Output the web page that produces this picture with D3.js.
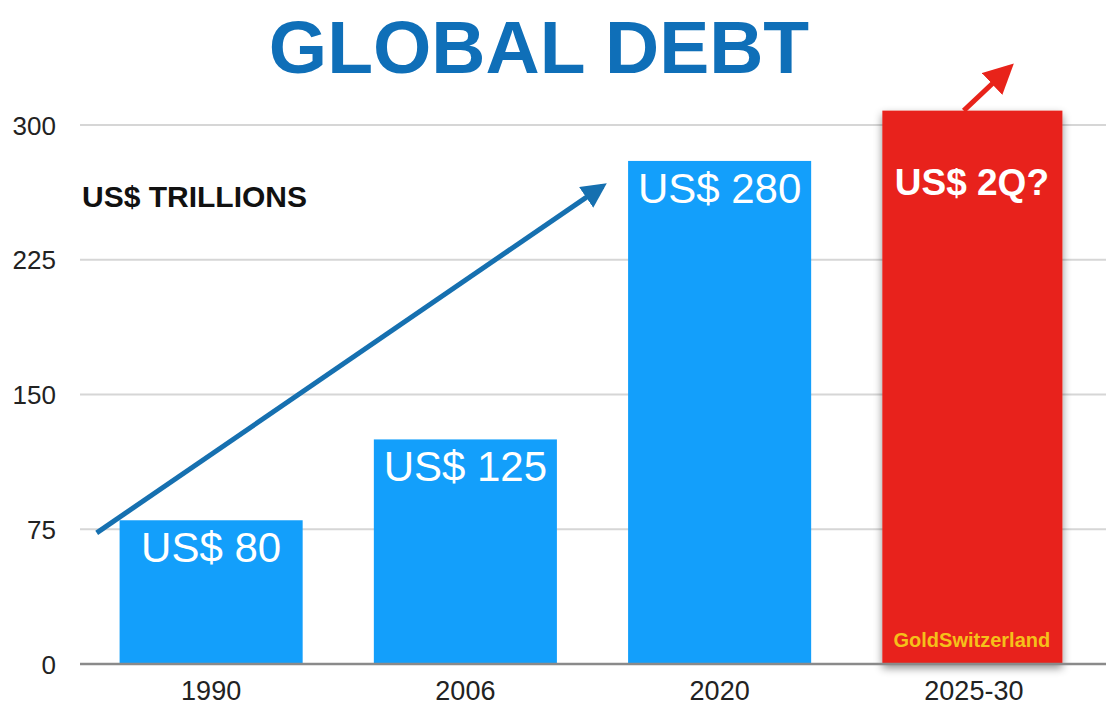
<!DOCTYPE html>
<html><head><meta charset="utf-8">
<script src="https://cdn.jsdelivr.net/npm/d3@7"></script>
<style>
html,body{margin:0;padding:0;background:#fff;}
svg{display:block;font-family:"Liberation Sans",Arial,Helvetica,sans-serif;}
</style></head>
<body><svg id="c" width="1106" height="708"></svg>
<script>
const categories = ["1990","2006","2020","2025-30"];
const values = [80,125,280,308];
const barLabels = ["US$ 80","US$ 125","US$ 280","US$ 2Q?"];
const yTicks = [0,75,150,225,300];
// arrows in data space: [category index offset, value]
const trendArrow = [[-0.45,73],[1.54,266]];
const projArrow = [[2.96,308],[3.14,332]];

const svg = d3.select("#c");
const W=1106,H=708;
const x = d3.scaleBand().domain(categories).range([84,1101]).paddingInner(0.28).paddingOuter(0.14);
const y = d3.scaleLinear().domain([0,300]).range([664,125]);
const xi = i => x(categories[0]) + x.bandwidth()/2 + i*x.step();

const defs = svg.append("defs");
const f = defs.append("filter").attr("id","sh").attr("x","-10%").attr("y","-10%").attr("width","120%").attr("height","125%");
f.append("feDropShadow").attr("dx",0).attr("dy",4).attr("stdDeviation",4).attr("flood-color","#000").attr("flood-opacity",0.45);
defs.append("marker").attr("id","ab").attr("viewBox","0 0 10 10").attr("refX",8).attr("refY",5)
  .attr("markerWidth",5).attr("markerHeight",5).attr("orient","auto").attr("markerUnits","strokeWidth")
  .append("path").attr("d","M0,0 L10,5 L0,10 z").attr("fill","#1670b0");
defs.append("marker").attr("id","ar").attr("viewBox","0 0 10 10").attr("refX",8).attr("refY",5)
  .attr("markerWidth",6).attr("markerHeight",6).attr("orient","auto").attr("markerUnits","strokeWidth")
  .append("path").attr("d","M0,0 L10,5 L0,10 z").attr("fill","#e8231a");

// title
svg.append("text").attr("x",539).attr("y",73).attr("text-anchor","middle")
  .attr("font-size",75).attr("font-weight","bold").attr("fill","#0f6fb8").text("GLOBAL DEBT");

// y axis + grid
const yAxis = d3.axisLeft(y).tickValues(yTicks).tickSize(0).tickPadding(0);
const ga = svg.append("g").attr("transform","translate(56,0)").call(yAxis);
ga.select(".domain").remove();
ga.selectAll("text").attr("font-size",26).attr("fill","#222").attr("font-family","Liberation Sans, Arial, sans-serif").attr("dy","0.35em");
svg.append("g").selectAll("line").data(yTicks.filter(d=>d>0)).join("line")
  .attr("x1",80).attr("x2",W).attr("y1",d=>y(d)).attr("y2",d=>y(d))
  .attr("stroke","#d6d6d6").attr("stroke-width",2);

// bars
const colors = ["#139ffb","#139ffb","#139ffb","#e8231a"];
svg.append("g").selectAll("rect").data(values).join("rect")
  .attr("x",(d,i)=>x(categories[i])).attr("width",(d,i)=>i===3?x.bandwidth()-3:x.bandwidth())
  .attr("y",d=>y(d)).attr("height",d=>y(0)-y(d))
  .attr("fill",(d,i)=>colors[i]).attr("filter",(d,i)=>i===3?"url(#sh)":null);

// baseline
svg.append("line").attr("x1",80).attr("x2",W).attr("y1",y(0)).attr("y2",y(0)).attr("stroke","#8a8a8a").attr("stroke-width",2.5);

// x axis
const xAxis = d3.axisBottom(x).tickSize(0).tickPadding(0);
const gx = svg.append("g").attr("transform",`translate(0,${y(0)})`).call(xAxis);
gx.select(".domain").remove();
gx.selectAll("text").attr("font-size",27).attr("fill","#222").attr("font-family","Liberation Sans, Arial, sans-serif").attr("dy","1.35em");

// bar labels
svg.append("g").selectAll("text").data(values).join("text")
  .attr("x",(d,i)=>x(categories[i])+x.bandwidth()/2 - (i===3?2:0))
  .attr("y",(d,i)=>i===3? y(d)+84 : y(d)+42)
  .attr("text-anchor","middle").attr("fill","#fff")
  .attr("font-size",(d,i)=>i===3?37:42).attr("font-weight",(d,i)=>i===3?"bold":"normal")
  .text((d,i)=>barLabels[i]);

svg.append("text").attr("x",x("2025-30")+x.bandwidth()/2-2).attr("y",y(0)-17).attr("text-anchor","middle")
  .attr("font-size",20).attr("font-weight","bold").attr("fill","#f5c01a").text("GoldSwitzerland");

svg.append("text").attr("x",82).attr("y",207).attr("font-size",30).attr("font-weight","bold").attr("fill","#111").text("US$ TRILLIONS");

// arrows
const line = d3.line().x(d=>xi(d[0])).y(d=>y(d[1]));
svg.append("path").attr("d",line(trendArrow)).attr("stroke","#1670b0").attr("stroke-width",5).attr("fill","none").attr("marker-end","url(#ab)");
svg.append("path").attr("d",line(projArrow)).attr("stroke","#e8231a").attr("stroke-width",5).attr("fill","none").attr("marker-end","url(#ar)");
</script></body></html>
